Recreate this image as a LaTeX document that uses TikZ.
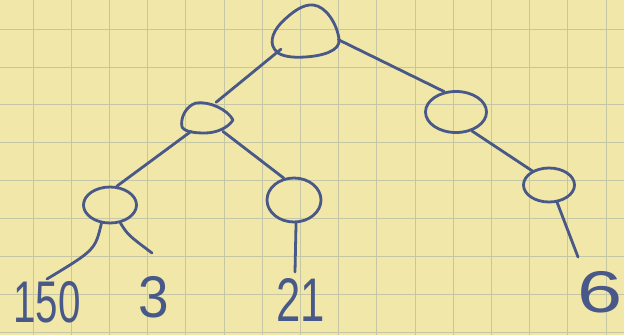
\documentclass[tikz,border=0pt]{standalone}
\usepackage{fontspec}
\setmainfont{Liberation Sans}
\usetikzlibrary{shapes.geometric}
\definecolor{paper}{HTML}{F1E7A8}
\definecolor{gridc}{HTML}{C4C6A6}
\definecolor{pen}{HTML}{485889}
\begin{document}
\begin{tikzpicture}[x=1pt,y=-1pt,
  pen/.style={draw=pen, line width=2.8pt, line cap=round, line join=round},
  vertex/.style={ellipse, pen, inner sep=0pt},
  hidden/.style={ellipse, inner sep=0pt},
  edge/.style={pen},
  gridline/.style={draw=gridc, line width=0.7pt},
  digit/.style={text=pen, inner sep=0pt, font=\fontsize{56}{56}\selectfont}]
\fill[paper] (0,0) rectangle (624,335);
\useasboundingbox (0,0) rectangle (624,335);
\foreach \i in {0,...,15} \draw[gridline] ({33+38.2*\i},0) -- ({33+38.2*\i},335);
\foreach \j in {0,...,8} \draw[gridline] (0,{29+37.9*\j}) -- (624,{29+37.9*\j});
% tree nodes
\node[hidden, minimum width=68pt, minimum height=53pt] (root) at (306,31) {};
\draw[pen] (313,5) .. controls (326,6) and (337,24) .. (339,39)
  .. controls (341,51) and (322,56) .. (305,57)
  .. controls (292,58) and (281,56) .. (277,52)
  .. controls (269,45) and (271,34) .. (281,23)
  .. controls (292,12) and (303,4) .. (313,5) -- cycle;
\node[hidden, minimum width=53pt, minimum height=33pt] (l) at (207,118) {};
\draw[pen] (196,103) .. controls (210,101) and (228,110) .. (233,120)
  .. controls (228,128) and (216,133) .. (205,133)
  .. controls (195,133) and (185,132) .. (182,127)
  .. controls (180,118) and (186,106) .. (196,103) -- cycle;
\node[vertex, minimum width=61pt, minimum height=41pt] (r) at (456,112) {};
\node[vertex, minimum width=53pt, minimum height=36pt] (ll) at (110,205) {};
\node[vertex, minimum width=54pt, minimum height=44pt] (lr) at (294,200) {};
\node[vertex, minimum width=51pt, minimum height=34pt] (rr) at (549,185) {};
% leaf ends
\coordinate (c150) at (47,279);
\coordinate (c3) at (152,253);
\coordinate (c21) at (295,272);
\coordinate (c6) at (578,257);
% edges
\draw[edge] (root.216) -- (l.60);
\draw[edge] (root.-15) -- (r.120);
\draw[edge] (l.220) -- (ll.70);
\draw[edge] (l.-40) -- (lr.115);
\draw[edge] (ll.-115) .. controls (95,250) .. (c150);
\draw[edge] (ll.-60) .. controls (128,235) .. (c3);
\draw[edge] (lr.-85) -- (c21);
\draw[edge] (r.-50) -- (rr.140);
\draw[edge] (rr.-65) -- (c6);
% labels
\node[digit] (t150) at (47,302) {\scalebox{0.72}[1.05]{150}};
\node[digit] (t3) at (154,297) {\scalebox{0.98}[1.05]{3}};
\node[digit] (t21) at (301,300) {\scalebox{0.78}[1.1]{21}};
\node[digit] (t6) at (600,292) {\scalebox{1.45}[1.05]{6}};
\end{tikzpicture}
\end{document}
